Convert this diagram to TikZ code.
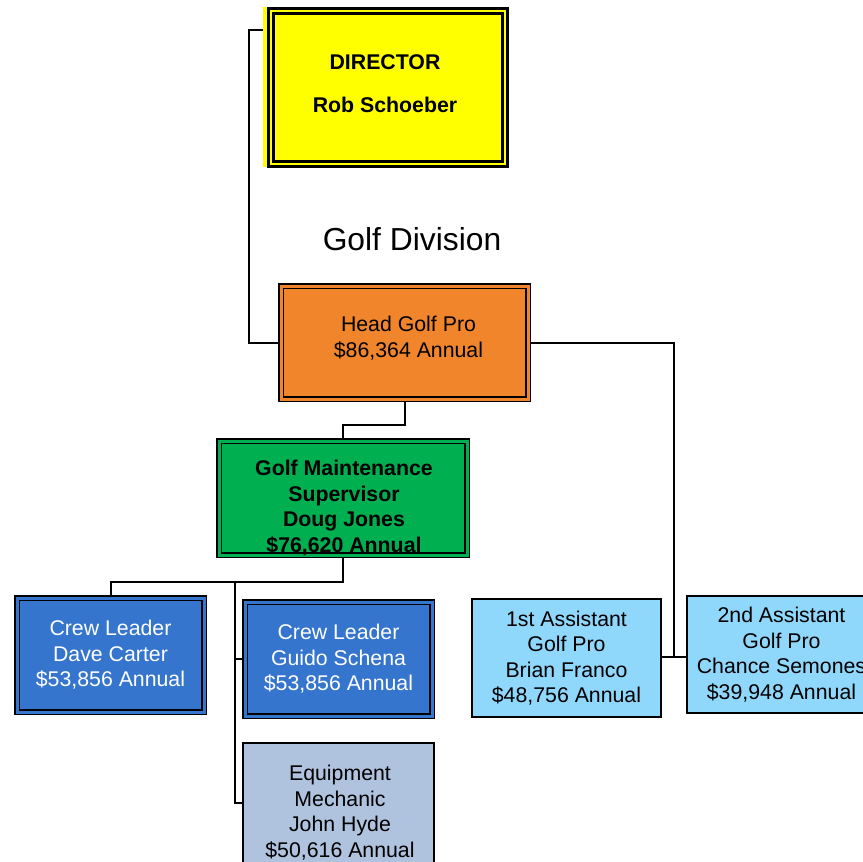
\documentclass[tikz,border=0pt]{standalone}
\usepackage{fontspec}
\setmainfont{Liberation Sans}
\usetikzlibrary{backgrounds}
\definecolor{diryellow}{HTML}{FFFF00}
\definecolor{headorange}{HTML}{F0852B}
\definecolor{maingreen}{HTML}{00AF50}
\definecolor{crewblue}{HTML}{3575CD}
\definecolor{steelbox}{HTML}{B0C3DE}
\definecolor{skybox}{HTML}{8FD8FC}
\tikzset{
  regtext/.style={font=\fontsize{21.3}{25.5}\selectfont, align=center},
  boldtext/.style={font=\bfseries\fontsize{21.3}{25.5}\selectfont, align=center},
  dblbox/.style={rectangle, draw=black, line width=1.7pt, double=#1, double distance=3pt, fill=#1, inner sep=0pt, outer sep=0pt},
  sglbox/.style={rectangle, draw=black, line width=2pt, fill=#1, inner sep=0pt, outer sep=0pt},
  conn/.style={draw=black, line width=2pt},
}
\begin{document}
\begin{tikzpicture}[x=1pt, y=-1pt]
\useasboundingbox (0,0) rectangle (863,862);
\clip (0,0) rectangle (863,862);

% Director
\node[rectangle, draw=black, line width=3pt, double=diryellow, double distance=2pt, fill=diryellow,
      minimum width=234pt, minimum height=153pt, inner sep=0pt, outer sep=0pt,
      font=\bfseries\fontsize{21.3}{43}\selectfont, align=center] (dir) at (388,87.5)
      {\raisebox{5pt}[\height][\depth]{\hspace*{-6pt}\begin{tabular}{@{}c@{}}DIRECTOR\\Rob Schoeber\end{tabular}}};

\node[font=\fontsize{31.8}{36}\selectfont] (title) at (412,239) {Golf Division};

% Head Golf Pro
\node[dblbox=headorange, minimum width=247pt, minimum height=113pt, regtext] (head) at (404.5,342.5)
  {\raisebox{3pt}[\height][\depth]{\hspace*{8pt}\begin{tabular}{@{}c@{}}Head Golf Pro\\\$86,364 Annual\end{tabular}}};

% Maintenance supervisor
\node[dblbox=maingreen, minimum width=248pt, minimum height=114pt] (green) at (343,498) {};
\node[boldtext] (greentext) at (344,508) {Golf Maintenance\\Supervisor\\Doug Jones\\\$76,620 Annual};

% Crew leaders
\node[dblbox=crewblue, minimum width=187pt, minimum height=114pt, regtext, text=white] (crew1) at (110.5,655)
  {Crew Leader\\Dave Carter\\\$53,856 Annual};
\node[dblbox=crewblue, minimum width=187pt, minimum height=114pt, regtext, text=white] (crew2) at (338.5,659)
  {Crew Leader\\Guido Schena\\\$53,856 Annual};

% Equipment mechanic
\node[sglbox=steelbox, minimum width=191pt, minimum height=120pt] (equip) at (338.5,803) {};
\node[regtext] (equiptext) at (340,812.5) {Equipment\\Mechanic\\John Hyde\\\$50,616 Annual};

% Assistants
\node[sglbox=skybox, minimum width=189pt, minimum height=118pt, regtext] (asst1) at (566.5,658)
  {1st Assistant\\Golf Pro\\Brian Franco\\\$48,756 Annual};
\node[sglbox=skybox, minimum width=189pt, minimum height=117pt, regtext] (asst2) at (781.5,654.5)
  {2nd Assistant\\Golf Pro\\Chance Semones\\\$39,948 Annual};

\coordinate (dirL) at (263,30);
\coordinate (bus) at (235,582);
\coordinate (rbus) at (674,657);

\begin{scope}[on background layer]
  \fill[white] (0,0) rectangle (863,862);
  \draw[conn] (dirL) -- (249,30) |- (head.west);
  \draw[conn] (head.south) -- (head.south |- 0,425) -| (green.north);
  \draw[conn] (green.south) |- (bus);
  \draw[conn] (bus) -| (crew1.north);
  \draw[conn] (bus) |- (crew2.west);
  \draw[conn] (bus) |- (equip.west);
  \draw[conn] (head.east) -| (rbus);
  \draw[conn] (rbus) -- (rbus -| asst1.east);
  \draw[conn] (rbus) -- (rbus -| asst2.west);
  \fill[diryellow] (263,7) rectangle (300,167);
\end{scope}
\end{tikzpicture}
\end{document}
